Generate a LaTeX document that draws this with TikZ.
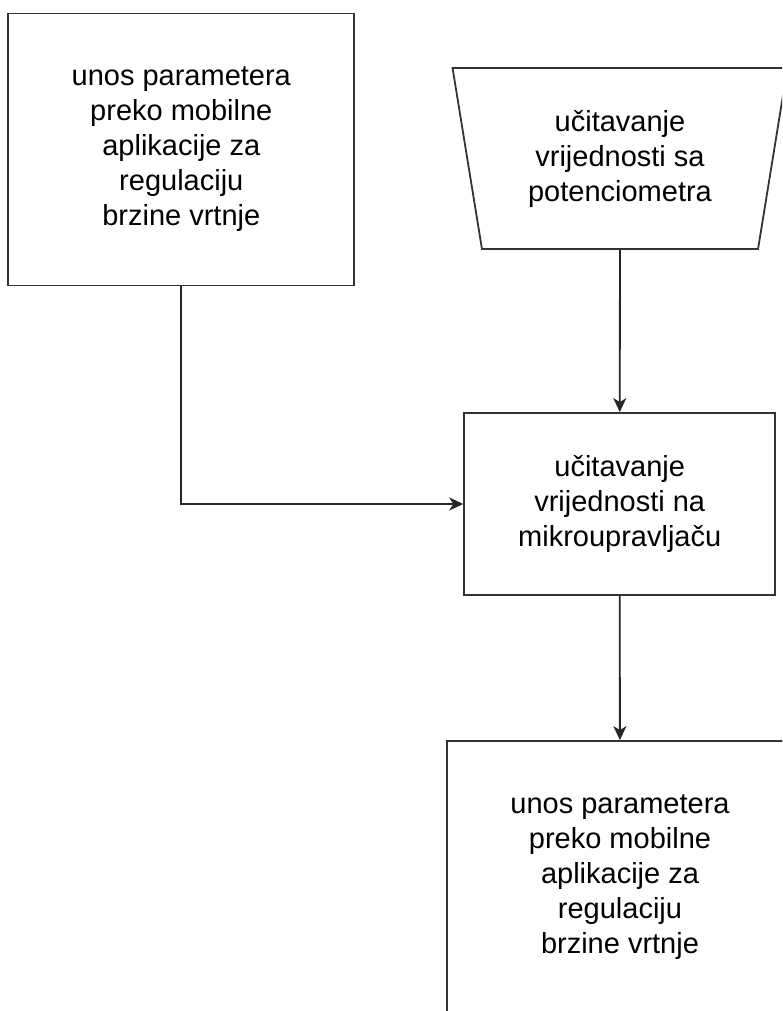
\documentclass[tikz,border=0pt]{standalone}
\usepackage{fontspec}
\setmainfont{Liberation Sans}
\usetikzlibrary{arrows.meta,shapes.geometric}
\begin{document}
\begin{tikzpicture}[x=1pt, y=-1pt,
      font=\fontsize{29}{35}\selectfont,
      box/.style={draw=black!80, line width=1.8pt, align=center, inner sep=0pt},
      task/.style={box, rectangle, minimum width=346pt, minimum height=272pt},
      proc/.style={box, rectangle, minimum width=311pt, minimum height=182pt},
      input/.style={box, trapezium, trapezium stretches=true, shape border rotate=180,
                    trapezium left angle=78.6, trapezium right angle=78.6,
                    minimum width=336pt, minimum height=181pt},
      flow/.style={-{Stealth[length=14pt, width=13pt, inset=4pt]}, line width=1.8pt, draw=black!85}]
    \useasboundingbox (0,0) rectangle (782,1011);
    \clip (0,0) rectangle (782,1011);
    \node[task] (app) at (181.3,149.5) {unos parametera\\preko mobilne\\aplikacije za\\regulaciju\\brzine vrtnje};
    \node[input] (pot) at (620,158.5) {učitavanje\\vrijednosti sa\\potenciometra};
    \node[proc] (mcu) at (619.7,504) {učitavanje\\vrijednosti na\\mikroupravljaču};
    \node[task] (out) at (620,877) {unos parametera\\preko mobilne\\aplikacije za\\regulaciju\\brzine vrtnje};
    \draw[flow] (pot) -- (mcu);
    \draw[flow] (app.south) |- (mcu.west);
    \draw[flow] (mcu) -- (out);
  \end{tikzpicture}
\end{document}
